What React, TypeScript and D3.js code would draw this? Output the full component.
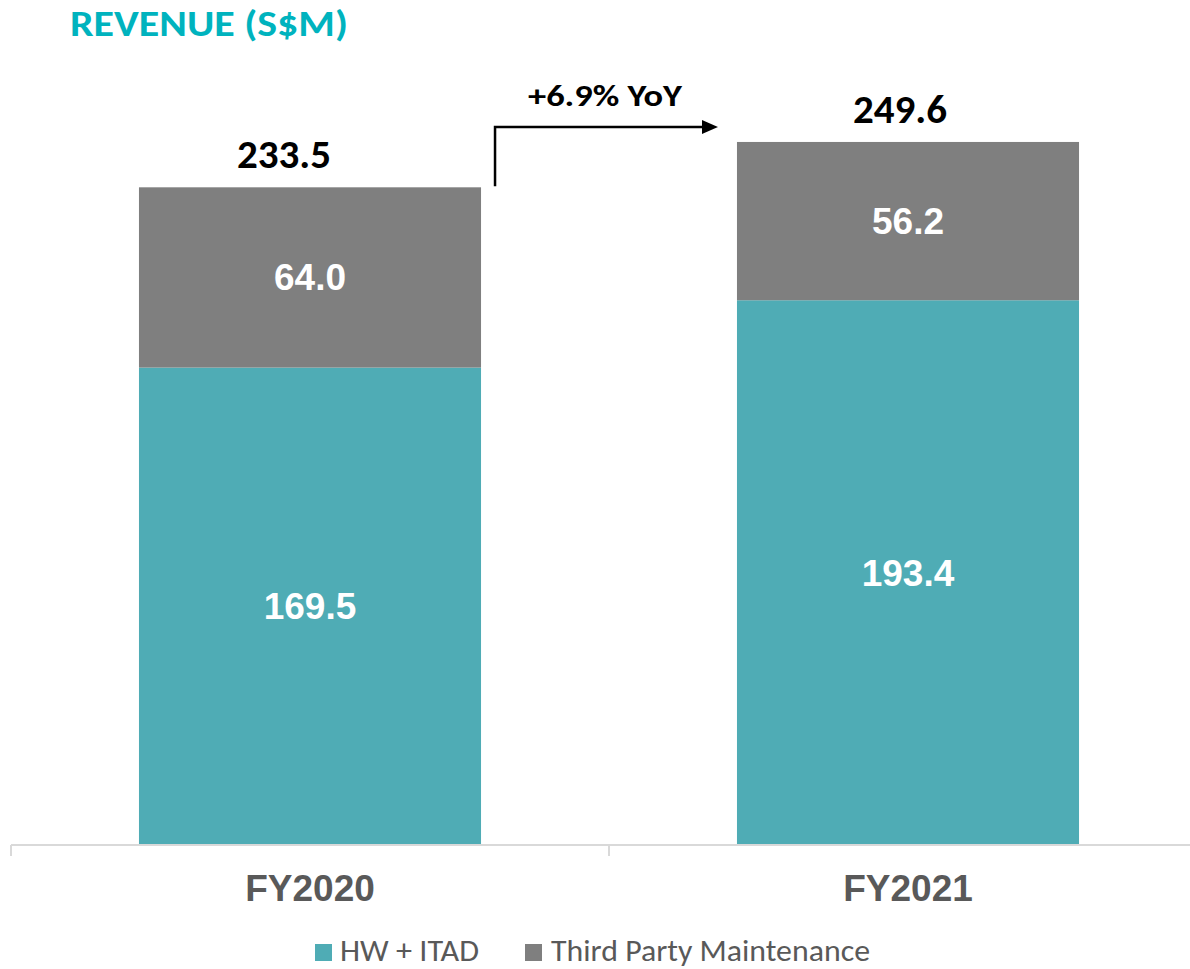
import React from "react";
import * as d3 from "d3";

const categories = ["FY2020", "FY2021"];
const hwItad = [169.5, 193.4];
const thirdParty = [64.0, 56.2];
const totals = [233.5, 249.6];
const seriesNames = ["HW + ITAD", "Third Party Maintenance"];
const title = "REVENUE (S$M)";
const yoyLabel = "+6.9% YoY";

const W = 1190;
const H = 969;
const TEAL = "#4FACB5";
const GRAY = "#7F7F7F";
const TITLE_TEAL = "#00B3BE";
const CAL = "Carlito, Lato, 'Open Sans', sans-serif";
const ARIAL = "Arial, 'Liberation Sans', sans-serif";

export default function App() {
  const x = d3.scaleBand<string>().domain(categories).range([11, 1207]).paddingInner(0.428).paddingOuter(0.214);
  const y = d3.scaleLinear().domain([0, 300]).range([845, 0]);
  const bw = x.bandwidth();
  const step = x.step();

  const stack = categories.map((c, i) => ({
    c,
    segs: [
      { y0: 0, y1: hwItad[i], v: hwItad[i], color: TEAL },
      { y0: hwItad[i], y1: hwItad[i] + thirdParty[i], v: thirdParty[i], color: GRAY },
    ],
  }));

  const totalOffsets = [-26, -8];
  const yoyStartX = (x(categories[0]) as number) + bw + 14;
  const yoyEndX = (x(categories[1]) as number) - 19;
  const yoyLineY = y(totals[1]) - 15;

  const tickXs = [0, 1, 2].map((i) => 11 + i * step);

  return (
    <svg width={W} height={H} style={{ display: "block", position: "absolute", left: 0, top: 0 }}>
      <rect x={0} y={0} width={W} height={H} fill="#fff" />
      <text x={70} y={36} fontFamily={CAL} fontWeight={700} fontSize={37} fill={TITLE_TEAL} textLength={278} lengthAdjust="spacingAndGlyphs">
        {title}
      </text>

      {stack.map((s) =>
        s.segs.map((g, j) => (
          <g key={s.c + j}>
            <rect x={x(s.c)} y={y(g.y1)} width={bw} height={y(g.y0) - y(g.y1)} fill={g.color} />
            <text
              x={(x(s.c) as number) + bw / 2}
              y={(y(g.y0) + y(g.y1)) / 2 + 13}
              textAnchor="middle"
              fontFamily={ARIAL}
              fontWeight={700}
              fontSize={37}
              fill="#fff"
            >
              {g.v.toFixed(1)}
            </text>
          </g>
        ))
      )}

      {categories.map((c, i) => (
        <text
          key={"t" + c}
          x={(x(c) as number) + bw / 2 + totalOffsets[i]}
          y={y(totals[i]) - 19}
          textAnchor="middle"
          fontFamily={CAL}
          fontWeight={700}
          fontSize={41}
          fill="#000"
        >
          {totals[i].toFixed(1)}
        </text>
      ))}

      <line x1={11} x2={1207} y1={845} y2={845} stroke="#D9D9D9" strokeWidth={2} />
      {tickXs.map((tx, i) => (
        <line key={"tk" + i} x1={tx} x2={tx} y1={845} y2={856} stroke="#D9D9D9" strokeWidth={2} />
      ))}

      {categories.map((c) => (
        <text
          key={"a" + c}
          x={(x(c) as number) + bw / 2}
          y={901}
          textAnchor="middle"
          fontFamily={ARIAL}
          fontWeight={700}
          fontSize={37}
          fill="#595959"
        >
          {c}
        </text>
      ))}

      <path
        d={`M${yoyStartX},${y(totals[0]) - 1} L${yoyStartX},${yoyLineY} L${yoyEndX - 14},${yoyLineY}`}
        fill="none"
        stroke="#000"
        strokeWidth={2.5}
      />
      <path d={`M${yoyEndX - 16},${yoyLineY - 7} L${yoyEndX},${yoyLineY} L${yoyEndX - 16},${yoyLineY + 7} Z`} fill="#000" />
      <text x={528} y={106} fontFamily={CAL} fontWeight={700} fontSize={30} fill="#000" textLength={154} lengthAdjust="spacingAndGlyphs">
        {yoyLabel}
      </text>

      <g>
        <rect x={315} y={944} width={17} height={17} fill={TEAL} />
        <text x={340} y={961} fontFamily={CAL} fontSize={31} fill="#595959" textLength={139} lengthAdjust="spacingAndGlyphs">
          {seriesNames[0]}
        </text>
        <rect x={525} y={944} width={17} height={17} fill={GRAY} />
        <text x={551} y={961} fontFamily={CAL} fontSize={31} fill="#595959" textLength={319} lengthAdjust="spacingAndGlyphs">
          {seriesNames[1]}
        </text>
      </g>
    </svg>
  );
}
